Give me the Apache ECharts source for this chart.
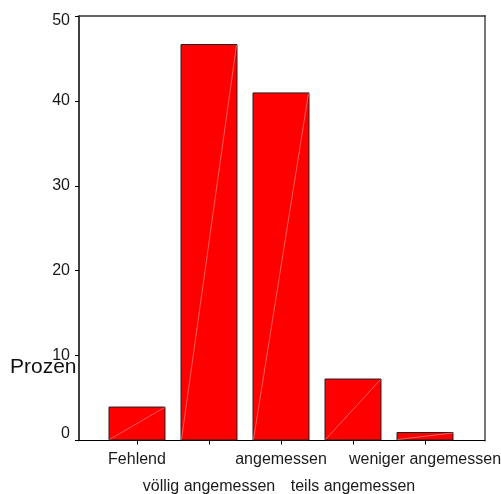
<!DOCTYPE html>
<html>
<head>
<meta charset="utf-8">
<script src="https://cdn.jsdelivr.net/npm/echarts@6/dist/echarts.min.js"></script>
<style>html,body{margin:0;padding:0;background:#fff}#c{width:501px;height:494px}</style>
</head>
<body>
<div id="c"></div>
<script>
var categories = ['Fehlend', 'völlig angemessen', 'angemessen', 'teils angemessen', 'weniger angemessen'];
var values = [4.0, 46.7, 41.0, 7.3, 1.0];
var yTicks = [0, 10, 20, 30, 40, 50];
var yName = 'Prozen';

var FONT = '"Liberation Sans", Arial, sans-serif';
var BAR_W = 57;
var chart = echarts.init(document.getElementById('c'), null, {renderer: 'canvas'});
chart.setOption({
  animation: false,
  backgroundColor: '#ffffff',
  title: {
    text: yName, left: 10, top: 357, padding: 0,
    textStyle: {fontFamily: FONT, fontSize: 21, fontWeight: 'normal', color: '#111'}
  },
  grid: [
    {left: 79, top: 16, width: 406, bottom: 53.5, containLabel: false, outerBoundsMode: 'none'},
    {left: 101, top: 16, width: 360, bottom: 53.5, containLabel: false, outerBoundsMode: 'none'}
  ],
  xAxis: [
    {gridIndex: 0, type: 'value', min: 0, max: 1, position: 'bottom',
     axisLine: {show: true, onZero: false, lineStyle: {color: '#000', width: 1}}, axisTick: {show: false},
     axisLabel: {show: false}, splitLine: {show: false}},
    {gridIndex: 0, type: 'value', min: 0, max: 1, position: 'top',
     axisLine: {show: true, onZero: false, lineStyle: {color: '#333', width: 1.5}}, axisTick: {show: false},
     axisLabel: {show: false}, splitLine: {show: false}},
    {gridIndex: 1, type: 'category', data: categories, position: 'bottom',
     axisLine: {show: false, onZero: false},
     axisTick: {show: true, alignWithLabel: true, length: 4, lineStyle: {color: '#000'}},
     axisLabel: {
       interval: 0, margin: 6, fontFamily: FONT, fontSize: 16, color: '#1a1a1a',
       lineHeight: 27, verticalAlign: 'top',
       formatter: function (v, i) { return i % 2 ? '\n' + v : v; }
     },
     splitLine: {show: false}}
  ],
  yAxis: [
    {gridIndex: 0, type: 'value', min: 0, max: 50, interval: 10, position: 'left',
     axisLine: {show: true, onZero: false, lineStyle: {color: '#000', width: 1.5}},
     axisTick: {show: true, inside: false, length: 4, lineStyle: {color: '#000'}},
     axisLabel: {margin: 9, fontFamily: FONT, fontSize: 16, color: '#1a1a1a',
       formatter: function (v) {
         if (yTicks.indexOf(v) < 0) return '';
         if (v === yTicks[0]) return '{lo|' + v + '}';
         if (v === yTicks[yTicks.length - 1]) return '{hi|' + v + '}';
         return String(v);
       },
       rich: {
         lo: {fontFamily: FONT, fontSize: 16, color: '#1a1a1a', padding: [0, 0, 13, 0]},
         hi: {fontFamily: FONT, fontSize: 16, color: '#1a1a1a', padding: [9, 0, 0, 0]}
       }},
     splitLine: {show: false}},
    {gridIndex: 0, type: 'value', min: 0, max: 50, position: 'right',
     axisLine: {show: true, onZero: false, lineStyle: {color: '#777', width: 2}}, axisTick: {show: false},
     axisLabel: {show: false}, splitLine: {show: false}},
    {gridIndex: 1, type: 'value', min: 0, max: 50, show: false, splitLine: {show: false}}
  ],
  series: [{
    type: 'bar', xAxisIndex: 2, yAxisIndex: 2,
    data: values, barWidth: BAR_W,
    itemStyle: {color: '#ff0000', borderColor: '#222', borderWidth: 1}
  }, {
    type: 'custom', xAxisIndex: 2, yAxisIndex: 2, silent: true, z: 3,
    data: values.map(function (v, i) { return [i, v]; }),
    renderItem: function (params, api) {
      var base = api.coord([api.value(0), 0]);
      var top = api.coord([api.value(0), api.value(1)]);
      var h = BAR_W / 2 - 1;
      return {
        type: 'line',
        shape: {x1: base[0] - h, y1: base[1] - 1, x2: top[0] + h, y2: top[1] + 1},
        style: {stroke: '#ff9a9a', lineWidth: 0.6}
      };
    }
  }]
});
</script>
</body>
</html>
